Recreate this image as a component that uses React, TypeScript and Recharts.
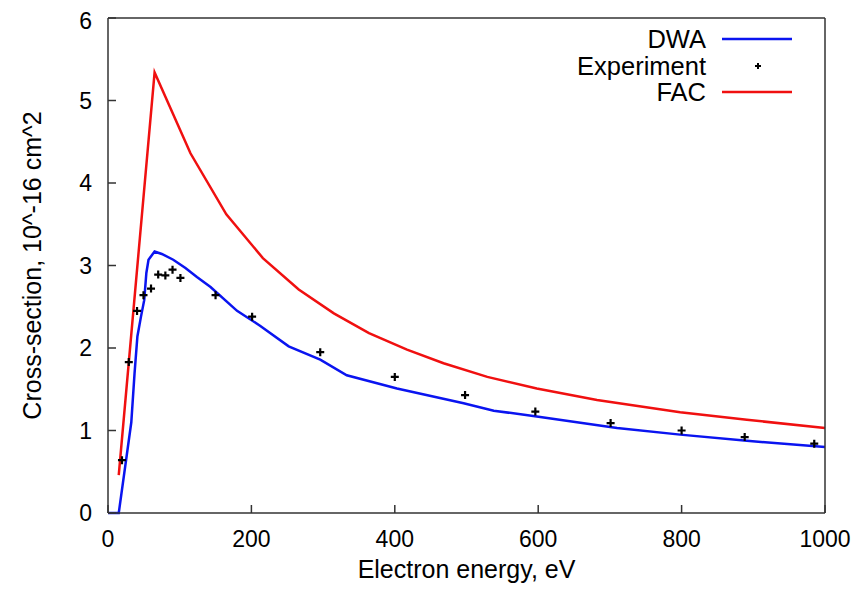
import React from 'react';
import { ComposedChart, Line, Scatter, XAxis, YAxis } from 'recharts';

// DWA calculation (blue)
const dwaEnergy = [0, 15, 32.5, 37, 41, 46, 50.5, 53.5, 56.5, 65, 75, 91, 108, 124, 143, 180, 212, 252, 296, 333, 403, 496, 538, 598, 710, 798, 891, 1000];
const dwaSigma = [0, 0, 1.1, 1.69, 2.14, 2.38, 2.58, 2.91, 3.07, 3.17, 3.14, 3.07, 2.97, 2.86, 2.74, 2.45, 2.27, 2.02, 1.86, 1.67, 1.51, 1.33, 1.24, 1.17, 1.03, 0.95, 0.875, 0.8];

// FAC calculation (red)
const facEnergy = [15, 65, 115, 165, 216, 266, 315, 364, 417, 468, 529, 598, 682, 798, 891, 1000];
const facSigma = [0.46, 5.34, 4.36, 3.62, 3.09, 2.71, 2.42, 2.18, 1.98, 1.815, 1.65, 1.51, 1.37, 1.22, 1.13, 1.03];

// measured points
const expEnergy = [19.5, 29, 40.5, 49.5, 60, 70, 80, 90, 101, 150, 201, 296, 400, 498, 596, 701, 800, 888, 985];
const expSigma = [0.64, 1.83, 2.45, 2.64, 2.72, 2.89, 2.88, 2.95, 2.85, 2.64, 2.38, 1.95, 1.65, 1.43, 1.23, 1.09, 1.0, 0.92, 0.84];

const xTicks = [0, 200, 400, 600, 800, 1000];
const yTicks = [0, 1, 2, 3, 4, 5, 6];

const toPoints = (xs: number[], ys: number[]) => xs.map((x, i) => ({ x, y: ys[i] }));

const dwaData = toPoints(dwaEnergy, dwaSigma);
const facData = toPoints(facEnergy, facSigma);
const expData = toPoints(expEnergy, expSigma);

const FONT = '"Liberation Sans", Arial, sans-serif';
const AXIS = '#333';
const BLUE = '#0a14f0';
const RED = '#f01010';

const Cross = (props: any) => {
  const { cx, cy } = props;
  if (cx == null || cy == null) return null;
  return (
    <path d={`M${cx - 4},${cy}H${cx + 4}M${cx},${cy - 4}V${cy + 4}`} stroke="#000" strokeWidth={2.2} fill="none" />
  );
};

const legendItems = [
  { name: 'DWA', kind: 'line', color: BLUE },
  { name: 'Experiment', kind: 'point', color: '#000' },
  { name: 'FAC', kind: 'line', color: RED },
];

const tickStyle = { fontSize: 23, fill: '#000', fontFamily: FONT };

export default function App() {
  return (
    <div style={{ position: 'relative', width: 854, height: 585 }}>
      <ComposedChart width={854} height={585} margin={{ top: 9, right: 36, bottom: 30, left: 0 }}>
        <XAxis
          type="number"
          dataKey="x"
          domain={[0, 1000]}
          ticks={xTicks}
          height={50}
          tickSize={-8}
          tickMargin={26}
          stroke={AXIS}
          strokeWidth={1.5}
          tick={tickStyle}
          label={{ value: 'Electron energy, eV', position: 'bottom', offset: -3, style: { fontSize: 25, fill: '#000', fontFamily: FONT } }}
        />
        <XAxis
          xAxisId="top"
          orientation="top"
          type="number"
          domain={[0, 1000]}
          ticks={xTicks}
          height={1}
          tickSize={-8}
          stroke={AXIS}
          strokeWidth={1.5}
          tick={false}
        />
        <YAxis
          type="number"
          domain={[0, 6]}
          ticks={yTicks}
          width={100}
          tickSize={-8}
          tickMargin={24}
          stroke={AXIS}
          strokeWidth={1.5}
          tick={tickStyle}
          label={{ value: 'Cross-section, 10^-16 cm^2', angle: -90, position: 'insideLeft', offset: 24, style: { textAnchor: 'middle', fontSize: 25, fill: '#000', fontFamily: FONT } }}
        />
        <YAxis
          yAxisId="right"
          orientation="right"
          type="number"
          domain={[0, 6]}
          ticks={yTicks}
          width={1}
          tickSize={-8}
          stroke={AXIS}
          strokeWidth={1.5}
          tick={false}
        />
        <Line data={dwaData} dataKey="y" type="linear" stroke={BLUE} strokeWidth={2.5} dot={false} isAnimationActive={false} />
        <Line data={facData} dataKey="y" type="linear" stroke={RED} strokeWidth={2.5} dot={false} isAnimationActive={false} />
        <Scatter data={expData} dataKey="y" shape={<Cross />} isAnimationActive={false} />
      </ComposedChart>
      {legendItems.map((item, i) => (
        <div
          key={item.name}
          style={{ position: 'absolute', left: 478, top: 18 + i * 26.5, height: 26, display: 'flex', alignItems: 'center', fontFamily: FONT, fontSize: 25.5, color: '#000' }}
        >
          <div style={{ width: 220, textAlign: 'right', lineHeight: '26px' }}>{item.name}</div>
          <svg width={70} height={26} style={{ marginLeft: 16 }}>
            {item.kind === 'line' ? (
              <line x1={0} x2={70} y1={13} y2={13} stroke={item.color} strokeWidth={2.5} />
            ) : (
              <path d="M33,13H39M36,10V16" stroke="#000" strokeWidth={2} />
            )}
          </svg>
        </div>
      ))}
    </div>
  );
}
